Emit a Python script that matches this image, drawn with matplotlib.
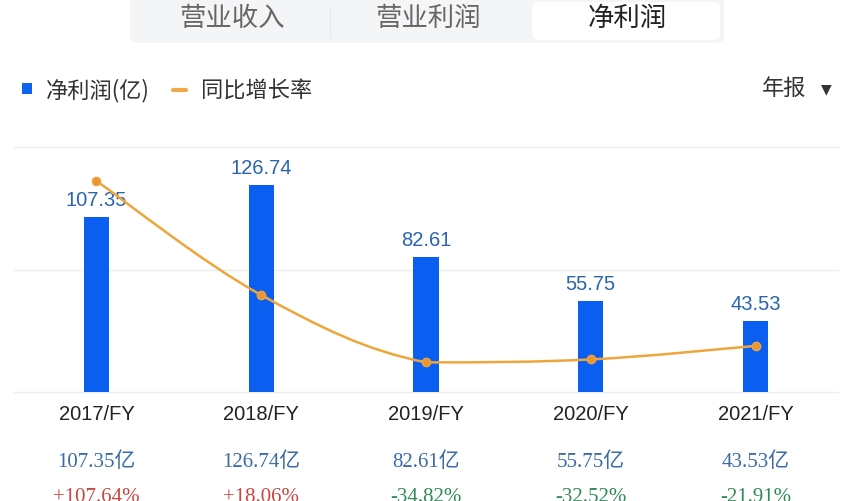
import matplotlib.pyplot as plt
import matplotlib.transforms as mtransforms
from matplotlib.path import Path
from matplotlib.patches import PathPatch, FancyBboxPatch, Rectangle
import numpy as np

years = ['2017/FY', '2018/FY', '2019/FY', '2020/FY', '2021/FY']
profit = [107.35, 126.74, 82.61, 55.75, 43.53]
growth = [107.64, 18.06, -34.82, -32.52, -21.91]
tabs = ['营业收入', '营业利润', '净利润']

W, H = 852, 502
CJK = ['Noto Sans CJK SC', 'DejaVu Sans']
NUM = ['Liberation Sans', 'Noto Sans CJK SC']
SERIF = ['Liberation Serif', 'Noto Sans CJK SC']


def fx(x):
    return x / W


def fy(y):
    return 1 - y / H


fig = plt.figure(figsize=(W / 100, H / 100), dpi=100)
fig.patch.set_facecolor('white')

# tab bar on top
fig.patches.append(FancyBboxPatch((fx(130), fy(44)), fx(594), fy(0) - fy(44) + 0.02,
                                  boxstyle='round,pad=0,rounding_size=0.012',
                                  transform=fig.transFigure, facecolor='#f4f5f7',
                                  edgecolor='none', zorder=0))
fig.patches.append(FancyBboxPatch((fx(532), fy(41)), fx(188), fy(3) - fy(41),
                                  boxstyle='round,pad=0,rounding_size=0.01',
                                  transform=fig.transFigure, facecolor='white',
                                  edgecolor='none', zorder=1))
fig.lines.append(plt.Line2D([fx(330), fx(330)], [fy(8), fy(38)], transform=fig.transFigure,
                            color='#e8e9ec', lw=1))
for name, cx, col in zip(tabs, [232, 428, 627], ['#666666', '#666666', '#222222']):
    fig.text(fx(cx), fy(18), name, ha='center', va='center', fontsize=19,
             color=col, family=CJK)

# legend row
fig.patches.append(Rectangle((fx(22), fy(95)), fx(10), fy(84) - fy(95),
                             transform=fig.transFigure, facecolor='#0f62f0',
                             edgecolor='none'))
fig.text(fx(46), fy(91), '净利润(亿)', ha='left', va='center', fontsize=16,
         color='#333333', family=CJK)
fig.lines.append(plt.Line2D([fx(173), fx(186)], [fy(91), fy(91)], transform=fig.transFigure,
                            color='#f0a848', lw=3, solid_capstyle='round'))
fig.text(fx(201), fy(91), '同比增长率', ha='left', va='center', fontsize=16,
         color='#333333', family=CJK)
fig.text(fx(762), fy(88), '年报', ha='left', va='center', fontsize=16,
         color='#333333', family=CJK)
fig.text(fx(826), fy(89), '▼', ha='center', va='center', fontsize=10,
         color='#333333', family=['DejaVu Sans'])

# main chart
ax = fig.add_axes([fx(14), fy(393), fx(824), fy(148.5) - fy(393)])
x = np.arange(len(years))
ax.bar(x, profit, width=0.152, color='#0a5ff0', zorder=2)
ax.set_xlim(-0.5, 4.5)
ax.set_ylim(0, 150)
ax.set_yticks([0, 75, 150])
ax.yaxis.grid(True, color='#eeeeee', lw=1)
for gl in ax.get_ygridlines():
    gl.set_clip_on(False)
ax.set_axisbelow(True)
for s in ax.spines.values():
    s.set_visible(False)
ax.tick_params(axis='y', length=0, labelleft=False)
ax.set_xticks(x)
ax.set_xticklabels(years, fontsize=14.5, color='#222222',
                   family=['Liberation Sans Narrow', 'Liberation Sans'])
ax.tick_params(axis='x', length=0, pad=9)
for xi, v in zip(x, profit):
    ax.annotate(f'{v:.2f}', (xi, v), xytext=(0, 6), textcoords='offset points',
                ha='center', va='bottom', fontsize=14.5, color='#2a64b0',
                family=NUM, zorder=5)

# growth line, smoothed with bezier segments through the data points
ax2 = ax.twinx()
ax2.set_ylim(-58.1, 133.9)
ax2.axis('off')
pts = np.column_stack([x, growth]).astype(float)
s = 0.18
verts = [pts[0]]
codes = [Path.MOVETO]
for i in range(len(pts) - 1):
    prev_p = pts[i - 1] if i > 0 else pts[i]
    next_p = pts[i + 2] if i + 2 < len(pts) else pts[i + 1]
    c1 = pts[i] + s * (pts[i + 1] - prev_p)
    c2 = pts[i + 1] - s * (next_p - pts[i])
    lo, hi = sorted([pts[i][1], pts[i + 1][1]])
    c1[1] = np.clip(c1[1], lo, hi)
    c2[1] = np.clip(c2[1], lo, hi)
    verts += [c1, c2, pts[i + 1]]
    codes += [Path.CURVE4] * 3
ax2.add_patch(PathPatch(Path(verts, codes), facecolor='none', edgecolor='#eea63c',
                        lw=1.8, zorder=3))
ax2.scatter(x, growth, s=38, color='#e9982f', zorder=4, edgecolors='#f0a848', linewidths=0.8)

# rows below the chart
blend = mtransforms.blended_transform_factory(ax.transData, fig.transFigure)
for xi, v, g in zip(x, profit, growth):
    ax.text(xi, fy(462), f'{v:.2f}亿', transform=blend, ha='center', va='center',
            fontsize=15, color='#3a6aa8', family=SERIF)
    col = '#c9463f' if g > 0 else '#2e8a55'
    ax.text(xi, fy(498), f'{g:+.2f}%', transform=blend, ha='center', va='center',
            fontsize=15, color=col, family=SERIF)

fig.savefig('out.png', dpi=100)
